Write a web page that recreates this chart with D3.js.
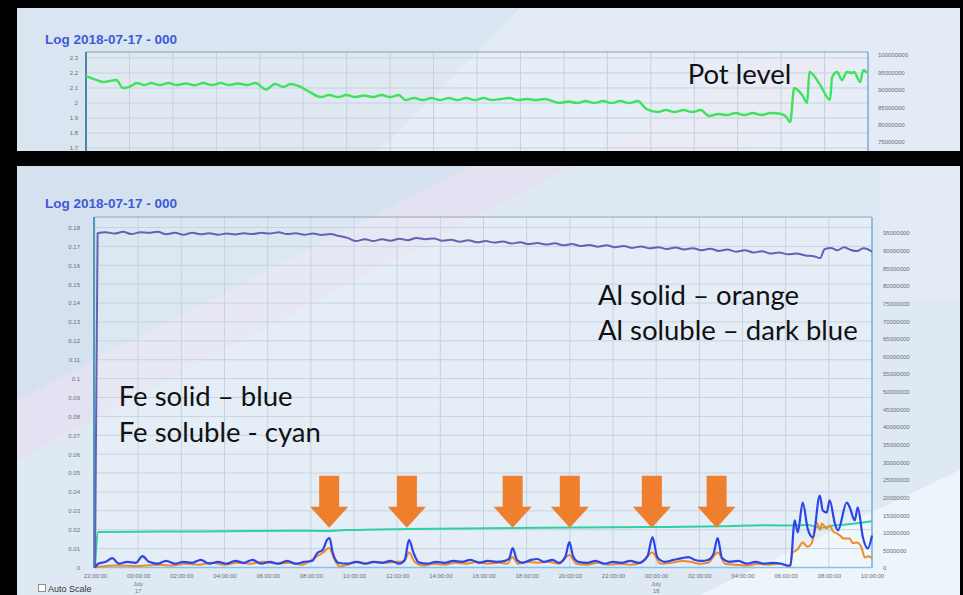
<!DOCTYPE html>
<html><head><meta charset="utf-8">
<script src="https://cdn.jsdelivr.net/npm/d3@7"></script>
<style>
html,body{margin:0;padding:0;background:#000;}
svg{display:block;}
</style></head><body>
<svg id="c" width="963" height="595"></svg>
<script>
// ---------- data ----------
const chartTitle = "Log 2018-07-17 - 000";
const xTickHours = [0,2,4,6,8,10,12,14,16,18,20,22,24,26,28,30,32,34,36];
const xTickLabels = ["22:00:00","00:00:00","02:00:00","04:00:00","06:00:00","08:00:00","10:00:00","12:00:00","14:00:00","16:00:00","18:00:00","20:00:00","22:00:00","00:00:00","02:00:00","04:00:00","06:00:00","08:00:00","10:00:00"];
const dateMarks = [{h:2, label:"July", sub:"17"}, {h:26, label:"July", sub:"18"}];

const topLeftTicks = [1.7,1.8,1.9,2,2.1,2.2,2.3];
const topRightTicks = [75000000,80000000,85000000,90000000,95000000,100000000];
const bottomLeftTicks = [0,0.01,0.02,0.03,0.04,0.05,0.06,0.07,0.08,0.09,0.1,0.11,0.12,0.13,0.14,0.15,0.16,0.17,0.18];
const bottomRightTicks = [0,5000000,10000000,15000000,20000000,25000000,30000000,35000000,40000000,45000000,50000000,55000000,60000000,65000000,70000000,75000000,80000000,85000000,90000000,95000000];

// [hours after 22:00 on 16 July, value]
const potLevel = [[0,2.18],[0.5,2.153],[0.8,2.14],[1.1,2.147],[1.4,2.153],[1.7,2.1],[2.0,2.107],[2.35,2.133],[2.7,2.12],[3.0,2.133],[3.4,2.12],[3.8,2.133],[4.2,2.12],[4.6,2.13],[5.0,2.118],[5.4,2.133],[5.8,2.12],[6.2,2.133],[6.6,2.12],[7.0,2.13],[7.4,2.12],[7.8,2.133],[8.3,2.09],[8.7,2.127],[9.1,2.107],[9.4,2.127],[9.8,2.113],[10.3,2.073],[10.8,2.04],[11.2,2.053],[11.6,2.04],[12.0,2.053],[12.4,2.04],[12.8,2.05],[13.2,2.04],[13.6,2.053],[14.0,2.04],[14.4,2.053],[14.7,2.02],[15.1,2.033],[15.5,2.02],[15.9,2.033],[16.3,2.02],[16.7,2.033],[17.1,2.02],[17.5,2.033],[17.9,2.02],[18.3,2.033],[18.7,2.02],[19.1,2.027],[19.5,2.033],[19.9,2.02],[20.3,2.027],[20.7,2.02],[21.1,2.027],[21.8,2.0],[22.2,2.01],[22.6,2.0],[23.0,2.013],[23.4,2.0],[23.8,2.013],[24.2,2.0],[24.6,2.013],[25.0,2.0],[25.4,2.013],[25.8,1.96],[26.3,1.94],[26.7,1.953],[27.1,1.94],[27.5,1.953],[27.9,1.94],[28.3,1.953],[28.7,1.913],[29.1,1.927],[29.5,1.92],[29.9,1.933],[30.3,1.92],[30.7,1.933],[31.1,1.92],[31.5,1.933],[31.9,1.93],[32.2,1.913],[32.42,1.873],[32.6,2.1],[32.97,2.053],[33.2,2.0],[33.3,2.207],[33.8,2.12],[34.25,2.02],[34.35,2.173],[34.58,2.207],[34.8,2.153],[35.03,2.207],[35.3,2.2],[35.36,2.207],[35.64,2.14],[35.78,2.22],[35.96,2.2]];

const alSoluble = [[0,0],[0.12,0.177],[0.5,0.1775],[0.9,0.1768],[1.3,0.1777],[1.7,0.1765],[2.1,0.1775],[2.5,0.1772],[2.9,0.1778],[3.3,0.1764],[3.7,0.1772],[4.1,0.1762],[4.5,0.1772],[4.9,0.1764],[5.3,0.177],[5.7,0.1762],[6.1,0.1768],[6.5,0.1763],[6.9,0.177],[7.3,0.1765],[7.7,0.1772],[8.1,0.1768],[8.5,0.1775],[8.9,0.1765],[9.3,0.177],[9.7,0.1762],[10.1,0.1768],[10.5,0.176],[10.9,0.1765],[11.3,0.1755],[11.7,0.1745],[12.1,0.1728],[12.5,0.1738],[12.9,0.1728],[13.3,0.1738],[13.7,0.173],[14.1,0.174],[14.5,0.1733],[14.9,0.1745],[15.3,0.1738],[15.7,0.1742],[16.1,0.173],[16.5,0.1735],[16.9,0.1725],[17.3,0.1732],[17.7,0.1722],[18.1,0.1728],[18.5,0.172],[18.9,0.1726],[19.3,0.1715],[19.7,0.1722],[20.1,0.1712],[20.5,0.1718],[20.9,0.171],[21.3,0.1716],[21.7,0.1706],[22.1,0.1712],[22.5,0.1702],[22.9,0.1708],[23.3,0.1698],[23.7,0.1706],[24.1,0.1696],[24.5,0.1702],[24.9,0.1692],[25.3,0.17],[25.7,0.169],[26.1,0.1696],[26.5,0.1686],[26.9,0.1694],[27.3,0.1684],[27.7,0.169],[28.1,0.168],[28.5,0.1688],[28.9,0.1676],[29.3,0.1683],[29.7,0.1672],[30.1,0.168],[30.5,0.1668],[30.9,0.1674],[31.3,0.1662],[31.7,0.1668],[32.1,0.1658],[32.5,0.1662],[32.9,0.1652],[33.3,0.1648],[33.6,0.1638],[33.8,0.1685],[34.1,0.1692],[34.4,0.168],[34.7,0.1695],[35.0,0.1682],[35.3,0.1675],[35.6,0.169],[35.8,0.1685],[36.0,0.1672]];

const feSoluble = [[0,0],[0.15,0.0188],[3,0.019],[6,0.0192],[9,0.0195],[10.8,0.0193],[11.6,0.0198],[14.5,0.0204],[19.3,0.0209],[25.8,0.0214],[29,0.0218],[31.2,0.0224],[32.4,0.0222],[33.0,0.0226],[33.6,0.021],[34.2,0.0222],[34.8,0.0228],[35.4,0.0236],[36,0.0245]];

const feSolid = [[0,0],[0.15,0.002],[0.5,0.003],[0.8,0.005],[1.1,0.002],[1.5,0.003],[1.9,0.0025],[2.2,0.006],[2.5,0.003],[2.9,0.002],[3.3,0.0035],[3.7,0.002],[4.1,0.003],[4.5,0.0025],[4.9,0.004],[5.3,0.002],[5.7,0.003],[6.1,0.002],[6.5,0.0035],[6.9,0.0025],[7.3,0.004],[7.7,0.002],[8.1,0.003],[8.5,0.002],[8.9,0.0035],[9.3,0.002],[9.7,0.003],[10.05,0.0035],[10.3,0.0077],[10.55,0.0093],[10.75,0.0146],[10.87,0.0156],[11.0,0.0085],[11.3,0.0024],[11.7,0.002],[12.1,0.003],[12.5,0.002],[12.9,0.003],[13.3,0.0025],[13.7,0.0035],[14.1,0.002],[14.35,0.004],[14.55,0.0146],[14.75,0.008],[15.0,0.0027],[15.4,0.002],[15.8,0.003],[16.2,0.0025],[16.6,0.0035],[17.0,0.003],[17.4,0.004],[17.8,0.0025],[18.2,0.0035],[18.6,0.003],[19.0,0.0035],[19.2,0.005],[19.35,0.0103],[19.55,0.004],[19.8,0.0025],[20.2,0.004],[20.5,0.0045],[20.8,0.003],[21.2,0.004],[21.5,0.0025],[21.8,0.006],[21.98,0.0135],[22.15,0.006],[22.4,0.003],[22.8,0.0025],[23.2,0.0035],[23.6,0.002],[24.0,0.003],[24.4,0.0025],[24.8,0.0035],[25.2,0.0025],[25.6,0.006],[25.83,0.0161],[26.05,0.0055],[26.4,0.003],[26.8,0.004],[27.2,0.005],[27.5,0.0055],[27.8,0.004],[28.1,0.0035],[28.4,0.004],[28.65,0.007],[28.85,0.0156],[29.05,0.005],[29.4,0.003],[29.8,0.0035],[30.2,0.002],[30.6,0.003],[31.0,0.002],[31.4,0.0025],[31.8,0.002],[32.1,0.001],[32.22,0.0012],[32.42,0.0249],[32.56,0.0186],[32.79,0.0344],[33.02,0.0206],[33.26,0.0159],[33.58,0.0381],[33.72,0.0302],[33.9,0.0291],[34.04,0.0355],[34.28,0.0233],[34.42,0.0196],[34.83,0.0344],[34.97,0.0318],[35.2,0.0249],[35.34,0.0318],[35.58,0.0159],[35.81,0.0101],[36.0,0.0169]];

const alSolid = [[0,0],[0.3,0.0005],[1,0.001],[2,0.0008],[3,0.0015],[3.5,0.001],[4.2,0.002],[4.8,0.0015],[5.4,0.0025],[6.0,0.0015],[6.6,0.0025],[7.2,0.002],[7.8,0.003],[8.4,0.002],[9.0,0.0025],[9.6,0.0015],[10.05,0.004],[10.3,0.006],[10.55,0.0077],[10.85,0.0103],[11.1,0.004],[11.35,0.0005],[11.7,0.0015],[12.2,0.003],[12.6,0.002],[13.0,0.003],[13.5,0.0025],[14.0,0.003],[14.3,0.003],[14.56,0.008],[14.8,0.003],[15.2,0.001],[15.7,0.002],[16.2,0.0015],[16.7,0.0025],[17.2,0.002],[17.7,0.003],[18.2,0.002],[18.7,0.0025],[19.1,0.002],[19.34,0.0056],[19.6,0.002],[20.0,0.003],[20.5,0.0025],[21.0,0.003],[21.5,0.002],[21.98,0.0066],[22.3,0.002],[22.8,0.0015],[23.3,0.0025],[23.8,0.0015],[24.3,0.002],[24.8,0.0015],[25.3,0.0025],[25.83,0.008],[26.2,0.002],[26.7,0.0025],[27.2,0.0035],[27.6,0.003],[28.0,0.002],[28.4,0.0025],[28.85,0.008],[29.2,0.002],[29.7,0.0015],[30.2,0.001],[30.7,0.002],[31.2,0.0015],[31.7,0.002],[32.2,0.0005],[32.32,0.0079],[32.55,0.0095],[32.79,0.0132],[33.0,0.011],[33.2,0.0127],[33.43,0.0238],[33.6,0.02],[33.67,0.0233],[33.9,0.0206],[34.04,0.0222],[34.2,0.019],[34.37,0.018],[34.6,0.016],[34.65,0.0153],[34.97,0.0153],[35.1,0.013],[35.29,0.0132],[35.5,0.011],[35.67,0.0053],[35.85,0.006],[36.0,0.0048]];

const arrowHours = [10.85,14.45,19.35,22.0,25.8,28.8];

const notes = [
  {text:"Pot level", panel:"top", h:27.7, v:2.124},
  {text:"Al solid \u2013 orange", panel:"bottom", h:23.3, v:0.139},
  {text:"Al soluble \u2013 dark blue", panel:"bottom", h:23.3, v:0.1205},
  {text:"Fe solid \u2013 blue", panel:"bottom", h:1.1, v:0.0857},
  {text:"Fe soluble - cyan", panel:"bottom", h:1.1, v:0.0667}
];

// ---------- drawing ----------
const svg = d3.select("#c");
const defs = svg.append("defs");
svg.append("rect").attr("width",963).attr("height",595).attr("fill","#000");

const hrs = 36;
const xT = d3.scaleLinear().domain([0,hrs]).range([86,868]);
const yT = d3.scaleLinear().domain([1.7,2.3]).range([148,58]);
const yTR = d3.scaleLinear().domain([75000000,100000000]).range([142,55]);
const xB = d3.scaleLinear().domain([0,hrs]).range([95,872]);
const yB = d3.scaleLinear().domain([0,0.18]).range([567.5,227.5]);
const yBR = d3.scaleLinear().domain([0,95000000]).range([568,233]);

const axisFont = "'Liberation Sans', Arial, sans-serif";
const noteFont = "Lato, 'Open Sans', sans-serif";

// ===== TOP PANEL =====
defs.append("clipPath").attr("id","clipTop").append("rect").attr("x",17).attr("y",8).attr("width",943).attr("height",143);
const topG = svg.append("g").attr("clip-path","url(#clipTop)");
topG.append("rect").attr("x",17).attr("y",8).attr("width",943).attr("height",143).attr("fill","#d9e5f0");
topG.append("polygon").attr("points","520,8 960,8 960,151 380,151").attr("fill","#e3ebf6");
topG.append("polygon").attr("points","600,151 760,60 860,60 740,151").attr("fill","#e9e4f5").attr("opacity",0.6);
topG.append("rect").attr("x",xT(0)).attr("y",52).attr("width",xT(hrs)-xT(0)).attr("height",100).attr("fill","#fff").attr("opacity",0.18);

topG.append("g").selectAll("line").data(topLeftTicks).join("line")
  .attr("x1",xT(0)).attr("x2",xT(hrs)).attr("y1",d=>yT(d)).attr("y2",d=>yT(d))
  .attr("stroke","#c3d1de").attr("stroke-width",1);
topG.append("g").selectAll("line").data(xTickHours).join("line")
  .attr("x1",d=>xT(d)).attr("x2",d=>xT(d)).attr("y1",52).attr("y2",151)
  .attr("stroke","#c3d1de").attr("stroke-width",1);

topG.append("line").attr("x1",xT(0)).attr("x2",xT(hrs)).attr("y1",52).attr("y2",52).attr("stroke","#8c9cad").attr("stroke-width",1.2);
topG.append("line").attr("x1",xT(0)).attr("x2",xT(0)).attr("y1",52).attr("y2",151).attr("stroke","#4f86a8").attr("stroke-width",2);
topG.append("line").attr("x1",xT(hrs)).attr("x2",xT(hrs)).attr("y1",52).attr("y2",151).attr("stroke","#7fb0d6").attr("stroke-width",1.5);

const lineT = d3.line().x(d=>xT(d[0])).y(d=>yT(d[1])).curve(d3.curveMonotoneX);
topG.append("path").datum(potLevel).attr("d",lineT).attr("fill","none")
  .attr("stroke","#3de35c").attr("stroke-width",2.4).attr("stroke-linejoin","round");

const taxL = topG.append("g").attr("transform",`translate(${xT(0)-5},0)`)
  .call(d3.axisLeft(yT).tickValues(topLeftTicks).tickSize(0).tickFormat(d=>String(+d.toFixed(1))));
const taxR = topG.append("g").attr("transform",`translate(${xT(hrs)+7},0)`)
  .call(d3.axisRight(yTR).tickValues(topRightTicks).tickSize(0).tickFormat(d3.format("d")));
[taxL,taxR].forEach(g=>{g.select(".domain").remove();g.selectAll("text").attr("font-family",axisFont).attr("font-size",6).attr("fill","#6b6f75");});

topG.append("text").attr("x",45).attr("y",44).text(chartTitle)
  .attr("font-family",axisFont).attr("font-weight","bold").attr("font-size",13.5).attr("fill","#3d5ad8");

// ===== BOTTOM PANEL =====
defs.append("clipPath").attr("id","clipBot").append("rect").attr("x",17).attr("y",166).attr("width",943).attr("height",429);
const botG = svg.append("g").attr("clip-path","url(#clipBot)");
botG.append("rect").attr("x",17).attr("y",166).attr("width",943).attr("height",429).attr("fill","#dfe9f4");
botG.append("polygon").attr("points","17,166 470,166 17,400").attr("fill","#d5e1ee");
botG.append("polygon").attr("points","470,166 570,166 17,460 17,400").attr("fill","#e4ddf1").attr("opacity",0.7);
botG.append("polygon").attr("points","880,166 960,166 960,300 880,300").attr("fill","#e6e9f6").attr("opacity",0.7);
botG.append("polygon").attr("points","700,595 960,470 960,595").attr("fill","#eef6fb").attr("opacity",0.9);
botG.append("rect").attr("x",xB(0)).attr("y",217).attr("width",xB(hrs)-xB(0)).attr("height",351).attr("fill","#fff").attr("opacity",0.2);

botG.append("g").selectAll("line").data(bottomLeftTicks).join("line")
  .attr("x1",xB(0)).attr("x2",xB(hrs)).attr("y1",d=>yB(d)).attr("y2",d=>yB(d))
  .attr("stroke","#c6d3e0").attr("stroke-width",1);
botG.append("g").selectAll("line").data(xTickHours).join("line")
  .attr("x1",d=>xB(d)).attr("x2",d=>xB(d)).attr("y1",217).attr("y2",568)
  .attr("stroke","#c6d3e0").attr("stroke-width",1);

botG.append("line").attr("x1",xB(0)).attr("x2",xB(hrs)).attr("y1",217).attr("y2",217).attr("stroke","#93a3b3").attr("stroke-width",1.2);
botG.append("line").attr("x1",xB(0)-1).attr("x2",xB(0)-1).attr("y1",217).attr("y2",568).attr("stroke","#4a9cc0").attr("stroke-width",2);
botG.append("line").attr("x1",xB(hrs)).attr("x2",xB(hrs)).attr("y1",217).attr("y2",568).attr("stroke","#7db6de").attr("stroke-width",1.6);
botG.append("line").attr("x1",xB(0)).attr("x2",xB(hrs)).attr("y1",yB(0)).attr("y2",yB(0)).attr("stroke","#86c2e8").attr("stroke-width",1.6);

const lineB = d3.line().x(d=>xB(d[0])).y(d=>yB(d[1])).curve(d3.curveMonotoneX);
const series = [
  {data:feSoluble, color:"#2fd0a3", w:2},
  {data:alSoluble, color:"#6661b3", w:2},
  {data:alSolid,   color:"#f08a2a", w:2},
  {data:feSolid,   color:"#2b45e6", w:2.2}
];
botG.append("g").selectAll("path").data(series).join("path")
  .attr("d",d=>lineB(d.data)).attr("fill","none")
  .attr("stroke",d=>d.color).attr("stroke-width",d=>d.w).attr("stroke-linejoin","round");

const arrow = (cx,tip)=>{
  const topY = tip-52, headY = tip-21, sw=10, hw=19;
  return `M${cx-sw},${topY}H${cx+sw}V${headY}H${cx+hw}L${cx},${tip}L${cx-hw},${headY}H${cx-sw}Z`;
};
botG.append("g").selectAll("path").data(arrowHours).join("path")
  .attr("d",h=>arrow(xB(h), yB(0.021)))
  .attr("fill","#ef7e2d");

const baxL = botG.append("g").attr("transform",`translate(${xB(0)-12},0)`)
  .call(d3.axisLeft(yB).tickValues(bottomLeftTicks).tickSize(0).tickFormat(d=>String(+d.toFixed(2))));
const baxR = botG.append("g").attr("transform",`translate(${xB(hrs)+8},0)`)
  .call(d3.axisRight(yBR).tickValues(bottomRightTicks).tickSize(0).tickFormat(d3.format("d")));
const baxX = botG.append("g").attr("transform",`translate(0,${yB(0)+3})`)
  .call(d3.axisBottom(xB).tickValues(xTickHours).tickSize(0).tickFormat((d,i)=>xTickLabels[i]));
[baxL,baxR,baxX].forEach(g=>{g.select(".domain").remove();g.selectAll("text").attr("font-family",axisFont).attr("font-size",6).attr("fill","#6b6f75");});

dateMarks.forEach(m=>{
  botG.append("text").attr("x",xB(m.h)).attr("y",586).attr("text-anchor","middle").text(m.label)
    .attr("font-family",axisFont).attr("font-size",5.5).attr("fill","#6b6f75");
  botG.append("text").attr("x",xB(m.h)).attr("y",593).attr("text-anchor","middle").text(m.sub)
    .attr("font-family",axisFont).attr("font-size",5.5).attr("fill","#6b6f75");
});

botG.append("rect").attr("x",38.5).attr("y",584.5).attr("width",7).attr("height",7).attr("fill","#fff").attr("stroke","#777").attr("stroke-width",0.8);
botG.append("text").attr("x",48).attr("y",592).text("Auto Scale")
  .attr("font-family",axisFont).attr("font-size",9).attr("fill","#333");

botG.append("text").attr("x",45).attr("y",208).text(chartTitle)
  .attr("font-family",axisFont).attr("font-weight","bold").attr("font-size",13.5).attr("fill","#3d5ad8");

// annotations: common size fitted so "Al soluble – dark blue" spans its reference width (~260px)
const probe = svg.append("text").text(notes[2].text).attr("font-family",noteFont).attr("font-size",24);
const noteSize = 24*260/probe.node().getComputedTextLength();
probe.remove();
notes.forEach(n=>{
  const sx = n.panel==="top"?xT:xB, sy = n.panel==="top"?yT:yB;
  svg.append("text").attr("x",sx(n.h)).attr("y",sy(n.v)).text(n.text)
    .attr("font-family",noteFont).attr("font-size",noteSize).attr("fill","#111");
});
</script>
</body></html>
